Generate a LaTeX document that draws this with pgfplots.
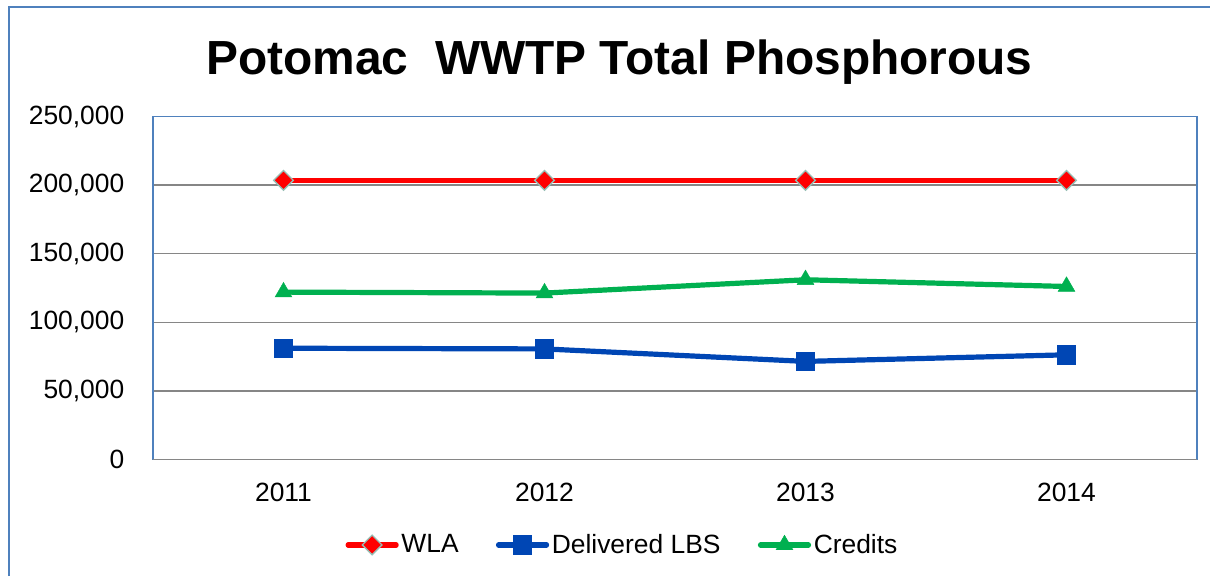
\documentclass[border=0pt]{standalone}
\usepackage{fontspec}
\setmainfont{Liberation Sans}
\usepackage{pgfplots}
\pgfplotsset{compat=1.18}
\definecolor{frameblue}{RGB}{79,129,189}
\definecolor{gridgray}{RGB}{134,134,134}
\definecolor{wlared}{RGB}{255,0,0}
\definecolor{lbsblue}{RGB}{0,70,180}
\definecolor{credgreen}{RGB}{0,176,80}
\definecolor{mkedge}{RGB}{150,190,180}

\begin{document}
\begin{tikzpicture}
\useasboundingbox (0pt,0pt) rectangle (907.5pt,432pt);
% outer chart frame (only left and top are visible)
\draw[frameblue,line width=1.5pt] (6.75pt,0pt) -- (6.75pt,426.75pt) -- (907.5pt,426.75pt);
\node[anchor=base,font=\bfseries\fontsize{35.9}{38}\selectfont] at (464.6pt,375.75pt) {Potomac\ \ WWTP Total Phosphorous};

\begin{axis}[
  at={(114.75pt,87.375pt)}, anchor=south west,
  scale only axis, width=783pt, height=257.25pt,
  xmin=0.5, xmax=4.5, ymin=0, ymax=250000,
  xtick={1,2,3,4}, xticklabels={2011,2012,2013,2014},
  ytick={0,50000,100000,150000,200000,250000},
  major tick length=0pt,
  ymajorgrids, grid style={gridgray,line width=1.1pt},
  axis line style={frameblue,line width=1.1pt},
  tick label style={font=\fontsize{19.8}{22}\selectfont},
  yticklabel shift=18pt, xticklabel shift=14pt,
  scaled y ticks=false,
  /pgf/number format/.cd, 1000 sep={,}, fixed, assume math mode=true,
  /pgfplots/.cd,
  legend columns=3,
  legend style={draw=none, fill=none, at={(0.45,-0.249)}, anchor=center,
    font=\fontsize{19.8}{22}\selectfont, inner sep=0pt,
    /tikz/every even column/.append style={column sep=26pt},
    nodes={inner sep=2pt}},
  legend image code/.code={\draw[mark repeat=2,mark phase=2,line cap=round]
    plot coordinates {(0pt,0pt)(18pt,0pt)(36pt,0pt)};},
]
\addplot[wlared, line width=3.9pt, mark=square*, mark size=5.2pt,
  mark options={rotate=45, fill=wlared, draw=mkedge, line width=1pt}]
  coordinates {(1,203500)(2,203500)(3,203500)(4,203500)};
\addlegendentry{WLA}
\addplot[lbsblue, line width=3.9pt, mark=square*, mark size=6.9pt,
  mark options={fill=lbsblue, draw=lbsblue, line width=0.5pt}]
  coordinates {(1,81100)(2,80600)(3,71500)(4,76300)};
\addlegendentry{Delivered LBS}
\addplot[credgreen, line width=3.9pt, mark=triangle*, mark size=7.3pt,
  mark options={fill=credgreen, draw=credgreen, line width=0.3pt}]
  coordinates {(1,122000)(2,121300)(3,131000)(4,126100)};
\addlegendentry{Credits}
% bottom axis line drawn in gray
\draw[gridgray,line width=1.5pt] (rel axis cs:0,0) -- (rel axis cs:1,0);
\end{axis}
\end{tikzpicture}
\end{document}
